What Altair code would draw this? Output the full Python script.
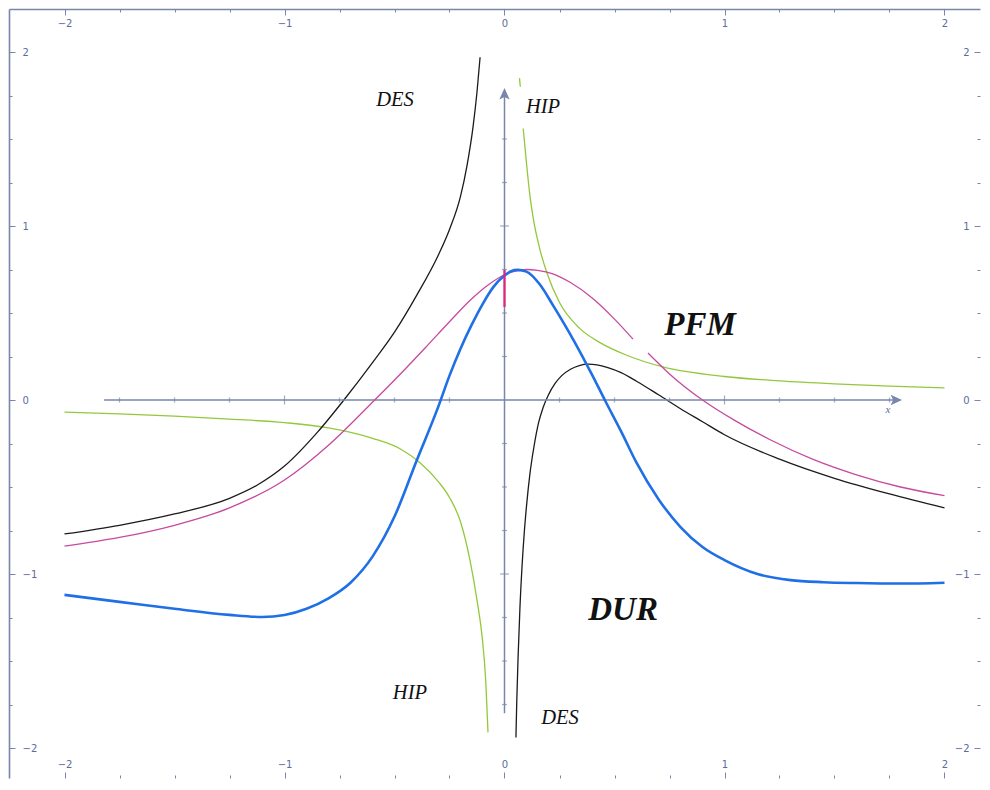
import altair as alt
import pandas as pd

# ---------------- data ----------------
DUR_X = [-2.0, -1.75, -1.5, -1.25, -1.1, -1.0, -0.9, -0.8, -0.7, -0.6, -0.5, -0.4, -0.3, -0.25,
         -0.2, -0.15, -0.1, -0.05, 0.0, 0.03, 0.06, 0.1, 0.16, 0.22, 0.27, 0.32, 0.4, 0.46, 0.53,
         0.6, 0.7, 0.8, 0.9, 1.0, 1.15, 1.3, 1.45, 1.6, 1.8, 2.0]
DUR_Y = [-1.12, -1.16, -1.20, -1.235, -1.247, -1.236, -1.20, -1.14, -1.05, -0.90, -0.67, -0.35,
         -0.035, 0.14, 0.295, 0.43, 0.55, 0.65, 0.715, 0.74, 0.748, 0.738, 0.665, 0.545, 0.44,
         0.33, 0.14, -0.01, -0.18, -0.36, -0.57, -0.73, -0.845, -0.92, -1.0, -1.035, -1.047,
         -1.052, -1.055, -1.05]

DES_L_X = [-2.0, -1.75, -1.5, -1.25, -1.125, -1.0, -0.85, -0.73, -0.6, -0.5, -0.4, -0.3, -0.25,
           -0.2, -0.17, -0.143, -0.125, -0.111]
DES_L_Y = [-0.77, -0.72, -0.655, -0.565, -0.49, -0.38, -0.185, 0.0, 0.215, 0.39, 0.60, 0.835,
           0.98, 1.17, 1.35, 1.57, 1.77, 1.97]
DES_R_X = [0.052, 0.056, 0.062, 0.07, 0.08, 0.09, 0.1, 0.115, 0.135, 0.155, 0.175, 0.2, 0.23,
           0.26, 0.3, 0.34, 0.38, 0.42, 0.47, 0.53, 0.6, 0.7, 0.8, 0.9, 1.0, 1.25, 1.5, 1.75, 2.0]
DES_R_Y = [-1.94, -1.72, -1.47, -1.2, -0.95, -0.76, -0.61, -0.43, -0.26, -0.13, -0.045, 0.03,
           0.095, 0.14, 0.177, 0.198, 0.206, 0.202, 0.186, 0.157, 0.108, 0.03, -0.05, -0.125,
           -0.2, -0.34, -0.45, -0.54, -0.62]

PFM_A_X = [-2.0, -1.75, -1.5, -1.25, -1.0, -0.8, -0.59, -0.45, -0.36, -0.25, -0.15, -0.07, 0.0,
           0.05, 0.1, 0.15, 0.22, 0.3, 0.4, 0.5, 0.584]
PFM_A_Y = [-0.84, -0.79, -0.72, -0.62, -0.46, -0.26, 0.0, 0.18, 0.30, 0.45, 0.58, 0.665, 0.72,
           0.74, 0.75, 0.745, 0.725, 0.675, 0.585, 0.465, 0.35]
PFM_B_X = [0.652, 0.75, 0.9, 1.05, 1.21, 1.4, 1.6, 1.8, 2.0]
PFM_B_Y = [0.27, 0.15, 0.0, -0.12, -0.23, -0.34, -0.43, -0.50, -0.55]
PFM_V_X = [0.0, 0.0]
PFM_V_Y = [0.535, 0.747]

HIP_L_X = [-2.0, -1.75, -1.5, -1.25, -1.0, -0.8, -0.6, -0.475, -0.384, -0.3, -0.25, -0.2,
           -0.157, -0.125, -0.1, -0.085, -0.075]
HIP_L_Y = [-0.07, -0.08, -0.093, -0.11, -0.13, -0.16, -0.22, -0.28, -0.36, -0.47, -0.56, -0.70,
           -0.92, -1.15, -1.38, -1.62, -1.91]
HIP_R_X = [0.085, 0.1, 0.115, 0.13, 0.16, 0.193, 0.25, 0.343, 0.434, 0.55, 0.72, 1.0, 1.25,
           1.5, 1.75, 2.0]
HIP_R_Y = [1.56, 1.36, 1.18, 1.05, 0.87, 0.73, 0.56, 0.41, 0.33, 0.26, 0.19, 0.135, 0.11,
           0.093, 0.08, 0.07]
HIP_T_X = [0.068, 0.072]
HIP_T_Y = [1.85, 1.80]

FRAME_TICKS = [i * 0.25 for i in range(-8, 9)]
INNER_TICKS = [i * 0.25 for i in range(-7, 8) if i != 0]
INNER_X_START = -1.82
INNER_Y_START = -1.8
ARROW_TIP = [1.807, 1.793]

SMALL_LABELS = ["DES", "HIP", "HIP", "DES"]
SMALL_X = [-0.498, 0.175, -0.43, 0.252]
SMALL_Y = [1.724, 1.684, -1.684, -1.828]
BIG_LABELS = ["PFM", "DUR"]
BIG_X = [0.889, 0.539]
BIG_Y = [0.431, -1.207]

# ---------------- layout ----------------
W, H = 971, 769
PXX, PXY = 220.0, 174.0
x0 = -2 - 55.5 / PXX
y1 = 2 + 43 / PXY
X_DOM = [x0, x0 + W / PXX]
Y_DOM = [y1 - H / PXY, y1]

xs = alt.Scale(domain=X_DOM, nice=False, zero=False)
ys = alt.Scale(domain=Y_DOM, nice=False, zero=False)

FRAME = "#7886ab"
LAB = "#5d6c9c"


def segs(*pairs):
    rows = []
    for k, (xx, yy) in enumerate(pairs):
        for i, (a, b) in enumerate(zip(xx, yy)):
            rows.append({"x": a, "y": b, "seg": k, "ord": i})
    return pd.DataFrame(rows)


def ax(orient, offset, domain, pad):
    return alt.Axis(
        orient=orient, offset=offset, values=FRAME_TICKS,
        labelExpr="datum.value % 1 === 0 ? datum.label : ''",
        format=".0f", grid=False, title=None, domain=domain,
        domainColor=FRAME, domainWidth=1.6, tickColor=FRAME, tickWidth=1,
        tickSize={"condition": {"test": "datum.value % 1 === 0", "value": 6}, "value": 3},
        labelColor=LAB, labelFont="DejaVu Sans", labelFontSize=10,
        labelPadding=pad, labelFlush=False, labelOverlap=False,
    )


def curve(df, color, width, xaxis=None, yaxis=None, interp="monotone"):
    return alt.Chart(df).mark_line(color=color, strokeWidth=width, interpolate=interp).encode(
        x=alt.X("x:Q", scale=xs, axis=xaxis),
        y=alt.Y("y:Q", scale=ys, axis=yaxis),
        detail="seg:N",
        order="ord:Q",
    )


# inner axes
h_axis = alt.Chart(pd.DataFrame({"a": [INNER_X_START], "b": [ARROW_TIP[0] - 0.02], "c": [0.0]})).mark_rule(
    color=FRAME, strokeWidth=1.5).encode(
    x=alt.X("a:Q", scale=xs, axis=None), x2="b:Q", y=alt.Y("c:Q", scale=ys, axis=None))
v_axis = alt.Chart(pd.DataFrame({"a": [INNER_Y_START], "b": [ARROW_TIP[1] - 0.02], "c": [0.0]})).mark_rule(
    color=FRAME, strokeWidth=1.5).encode(
    y=alt.Y("a:Q", scale=ys, axis=None), y2="b:Q", x=alt.X("c:Q", scale=xs, axis=None))

tick_df = pd.DataFrame({"t": INNER_TICKS, "z": [0.0] * len(INNER_TICKS),
                        "s": [9 if t % 1 == 0 else 5 for t in INNER_TICKS]})
h_ticks = alt.Chart(tick_df).mark_tick(orient="vertical", color=FRAME, thickness=1.2).encode(
    x=alt.X("t:Q", scale=xs, axis=None), y=alt.Y("z:Q", scale=ys, axis=None),
    size=alt.Size("s:Q", scale=None))
v_ticks = alt.Chart(tick_df).mark_tick(orient="horizontal", color=FRAME, thickness=1.2).encode(
    y=alt.Y("t:Q", scale=ys, axis=None), x=alt.X("z:Q", scale=xs, axis=None),
    size=alt.Size("s:Q", scale=None))

ARROW = "M-1,-0.45L0,0L-1,0.45L-0.78,0Z"
arrow_r = alt.Chart(pd.DataFrame({"x": [ARROW_TIP[0]], "y": [0.0]})).mark_point(
    shape=ARROW, filled=True, color=FRAME, size=520, opacity=1).encode(
    x=alt.X("x:Q", scale=xs, axis=None), y=alt.Y("y:Q", scale=ys, axis=None))
arrow_u = alt.Chart(pd.DataFrame({"x": [0.0], "y": [ARROW_TIP[1]]})).mark_point(
    shape=ARROW, filled=True, color=FRAME, size=520, angle=270, opacity=1).encode(
    x=alt.X("x:Q", scale=xs, axis=None), y=alt.Y("y:Q", scale=ys, axis=None))

x_lab = alt.Chart(pd.DataFrame({"x": [1.743], "y": [-0.057], "t": ["x"]})).mark_text(
    font="Liberation Serif", fontStyle="italic", fontSize=11, color=LAB).encode(
    x=alt.X("x:Q", scale=xs, axis=None), y=alt.Y("y:Q", scale=ys, axis=None), text="t:N")

# curves
green = curve(segs((HIP_L_X, HIP_L_Y), (HIP_R_X, HIP_R_Y)), "#94c83c", 1.3,
              xaxis=ax("bottom", -H, True, 3), yaxis=ax("right", -W, True, 7))
green_bit = curve(segs((HIP_T_X, HIP_T_Y)), "#94c83c", 1.3, interp="linear")
black = curve(segs((DES_L_X, DES_L_Y), (DES_R_X, DES_R_Y)), "#1b1b1b", 1.3,
              xaxis=ax("top", -H, False, 3), yaxis=ax("left", -W, False, 5))
magenta = curve(segs((PFM_A_X, PFM_A_Y), (PFM_B_X, PFM_B_Y)), "#c64a9e", 1.3)
magenta_v = curve(segs((PFM_V_X, PFM_V_Y)), "#e0237c", 2.2, interp="linear")
blue = curve(segs((DUR_X, DUR_Y)), "#1f6fe6", 2.6)

small = alt.Chart(pd.DataFrame({"x": SMALL_X, "y": SMALL_Y, "t": SMALL_LABELS})).mark_text(
    font="Liberation Serif", fontStyle="italic", fontSize=20.5, color="#111111").encode(
    x=alt.X("x:Q", scale=xs, axis=None), y=alt.Y("y:Q", scale=ys, axis=None), text="t:N")
big = alt.Chart(pd.DataFrame({"x": BIG_X, "y": BIG_Y, "t": BIG_LABELS})).mark_text(
    font="Liberation Serif", fontStyle="italic", fontWeight="bold", fontSize=33,
    color="#111111").encode(
    x=alt.X("x:Q", scale=xs, axis=None), y=alt.Y("y:Q", scale=ys, axis=None), text="t:N")

chart = alt.layer(
    green, black, h_axis, v_axis, h_ticks, v_ticks, arrow_r, arrow_u, x_lab,
    green_bit, magenta, blue, magenta_v, small, big,
).resolve_axis(x="independent", y="independent").properties(
    width=W, height=H,
    padding={"left": 0, "top": 0, "right": 0, "bottom": 0},
    background="white",
).configure_view(stroke=None)

chart.save("out.html", embed_options={"renderer": "svg", "actions": False})
